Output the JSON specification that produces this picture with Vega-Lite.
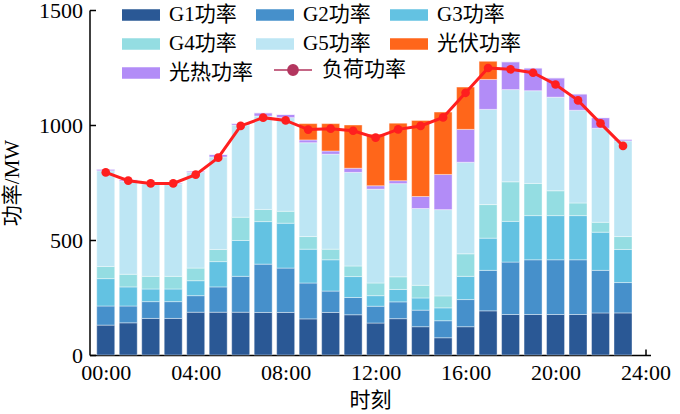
{
  "$schema": "https://vega.github.io/schema/vega-lite/v6.json",
  "autosize": {"type": "none"},
  "width": 561,
  "height": 345,
  "padding": {"left": 89.5, "top": 10, "right": 29.5, "bottom": 59},
  "background": "white",
  "data": {
    "values": [
      {"hour": 0, "G1功率": 130, "G2功率": 83, "G3功率": 119, "G4功率": 53, "G5功率": 416, "光热功率": 7, "光伏功率": 0, "负荷功率": 794},
      {"hour": 1, "G1功率": 140, "G2功率": 73, "G3功率": 83, "G4功率": 55, "G5功率": 404, "光热功率": 7, "光伏功率": 0, "负荷功率": 758},
      {"hour": 2, "G1功率": 159, "G2功率": 73, "G3功率": 55, "G4功率": 55, "G5功率": 401, "光热功率": 5, "光伏功率": 0, "负荷功率": 746},
      {"hour": 3, "G1功率": 159, "G2功率": 73, "G3功率": 55, "G4功率": 55, "G5功率": 401, "光热功率": 5, "光伏功率": 0, "负荷功率": 746},
      {"hour": 4, "G1功率": 186, "G2功率": 72, "G3功率": 65, "G4功率": 55, "G5功率": 416, "光热功率": 6, "光伏功率": 0, "负荷功率": 784},
      {"hour": 5, "G1功率": 186, "G2功率": 110, "G3功率": 110, "G4功率": 53, "G5功率": 402, "光热功率": 11, "光伏功率": 0, "负荷功率": 858},
      {"hour": 6, "G1功率": 186, "G2功率": 156, "G3功率": 156, "G4功率": 101, "G5功率": 401, "光热功率": 7, "光伏功率": 0, "负荷功率": 996},
      {"hour": 7, "G1功率": 185, "G2功率": 210, "G3功率": 185, "G4功率": 53, "G5功率": 406, "光热功率": 14, "光伏功率": 0, "负荷功率": 1032},
      {"hour": 8, "G1功率": 185, "G2功率": 193, "G3功率": 195, "G4功率": 52, "G5功率": 407, "光热功率": 14, "光伏功率": 0, "负荷功率": 1020},
      {"hour": 9, "G1功率": 157, "G2功率": 156, "G3功率": 147, "G4功率": 55, "G5功率": 408, "光热功率": 12, "光伏功率": 71, "负荷功率": 980},
      {"hour": 10, "G1功率": 185, "G2功率": 93, "G3功率": 136, "G4功率": 46, "G5功率": 413, "光热功率": 14, "光伏功率": 119, "负荷功率": 984},
      {"hour": 11, "G1功率": 175, "G2功率": 75, "G3功率": 91, "G4功率": 46, "G5功率": 407, "光热功率": 18, "光伏功率": 188, "负荷功率": 975},
      {"hour": 12, "G1功率": 139, "G2功率": 73, "G3功率": 46, "G4功率": 55, "G5功率": 408, "光热功率": 15, "光伏功率": 224, "负荷功率": 945},
      {"hour": 13, "G1功率": 158, "G2功率": 73, "G3功率": 54, "G4功率": 55, "G5功率": 405, "光热功率": 13, "光伏功率": 250, "负荷功率": 981},
      {"hour": 14, "G1功率": 123, "G2功率": 72, "G3功率": 53, "G4功率": 55, "G5功率": 334, "光热功率": 52, "光伏功率": 331, "负荷功率": 996},
      {"hour": 15, "G1功率": 75, "G2功率": 74, "G3功率": 56, "G4功率": 52, "G5功率": 375, "光热功率": 153, "光伏功率": 271, "负荷功率": 1033},
      {"hour": 16, "G1功率": 123, "G2功率": 118, "G3功率": 101, "G4功率": 98, "G5功率": 398, "光热功率": 143, "光伏功率": 184, "负荷功率": 1140},
      {"hour": 17, "G1功率": 192, "G2功率": 176, "G3功率": 140, "G4功率": 146, "G5功率": 414, "光热功率": 130, "光伏功率": 79, "负荷功率": 1248},
      {"hour": 18, "G1功率": 176, "G2功率": 228, "G3功率": 177, "G4功率": 172, "G5功率": 401, "光热功率": 121, "光伏功率": 0, "负荷功率": 1242},
      {"hour": 19, "G1功率": 176, "G2功率": 238, "G3功率": 192, "G4功率": 140, "G5功率": 403, "光热功率": 99, "光伏功率": 0, "负荷功率": 1227},
      {"hour": 20, "G1功率": 176, "G2功率": 238, "G3功率": 192, "G4功率": 108, "G5功率": 407, "光热功率": 84, "光伏功率": 0, "负荷功率": 1176},
      {"hour": 21, "G1功率": 176, "G2功率": 238, "G3功率": 192, "G4功率": 55, "G5功率": 403, "光热功率": 71, "光伏功率": 0, "负荷功率": 1107},
      {"hour": 22, "G1功率": 183, "G2功率": 185, "G3功率": 166, "G4功率": 43, "G5功率": 409, "光热功率": 46, "光伏功率": 0, "负荷功率": 1007},
      {"hour": 23, "G1功率": 183, "G2功率": 132, "G3功率": 144, "G4功率": 56, "G5功率": 416, "光热功率": 7, "光伏功率": 0, "负荷功率": 909}
    ]
  },
  "encoding": {
    "x": {
      "field": "hour",
      "type": "quantitative",
      "scale": {"domain": [-0.5, 24], "nice": false, "zero": false},
      "axis": {
        "title": "时刻",
        "values": [0, 4, 8, 12, 16, 20, 24],
        "labelExpr": "(datum.value < 10 ? '0' : '') + datum.value + ':00'",
        "labelFlush": false,
        "labelOverlap": false,
        "titlePadding": 6
      }
    }
  },
  "layer": [
    {
      "transform": [
        {"fold": ["G1功率", "G2功率", "G3功率", "G4功率", "G5功率", "光热功率", "光伏功率"], "as": ["type", "value"]},
        {"calculate": "indexof(['G1功率', 'G2功率', 'G3功率', 'G4功率', 'G5功率', '光热功率', '光伏功率'], datum.type)", "as": "ord"}
      ],
      "mark": {"type": "bar", "width": 18, "stroke": "white", "strokeWidth": 0.4},
      "encoding": {
        "y": {
          "field": "value",
          "type": "quantitative",
          "stack": "zero",
          "scale": {"domain": [0, 1500], "nice": false},
          "axis": {
            "title": "功率/MW",
            "values": [0, 500, 1000, 1500],
            "format": "d",
            "titlePadding": 16
          }
        },
        "order": {"field": "ord", "type": "quantitative"},
        "color": {
          "field": "type",
          "type": "nominal",
          "scale": {
            "domain": ["G1功率", "G2功率", "G3功率", "G4功率", "G5功率", "光伏功率", "光热功率"],
            "range": ["#2a5895", "#4690cb", "#63c2e2", "#94dde2", "#bde6f4", "#ff661a", "#b28cf7"]
          },
          "legend": {
            "title": null,
            "orient": "none",
            "direction": "horizontal",
            "legendX": 32.5,
            "legendY": -14,
            "columns": 3,
            "gridAlign": "all",
            "columnPadding": 3,
            "rowPadding": -5,
            "padding": 0,
            "symbolSize": 1444,
            "symbolType": "M-1,-0.3H1V0.3H-1Z",
            "symbolStrokeWidth": 0,
            "labelOffset": 9,
            "labelFontSize": 21,
            "labelLimit": 200
          }
        }
      }
    },
    {
      "mark": {"type": "line", "opacity": 0},
      "encoding": {
        "y": {"field": "负荷功率", "type": "quantitative"},
        "stroke": {
          "datum": "负荷功率",
          "type": "nominal",
          "scale": {"range": ["#b3365f"]},
          "legend": {
            "title": null,
            "orient": "none",
            "legendX": 183.5,
            "legendY": 40,
            "padding": 0,
            "symbolOpacity": 1,
            "symbolSize": 1444,
            "symbolType": "M-1,0H-0.27M0.27,0H1M0.27,0A0.27,0.27 0 1 1 -0.27,0A0.27,0.27 0 1 1 0.27,0Z",
            "symbolFillColor": "#b3365f",
            "symbolStrokeColor": "#b3365f",
            "symbolStrokeWidth": 1.5,
            "labelOffset": 9,
            "labelFontSize": 21,
            "labelLimit": 200
          }
        }
      }
    },
    {
      "mark": {
        "type": "line",
        "color": "#ff1f1f",
        "strokeWidth": 3,
        "point": {"filled": true, "size": 75, "color": "#ff1f1f"}
      },
      "encoding": {
        "y": {"field": "负荷功率", "type": "quantitative"}
      }
    }
  ],
  "config": {
    "font": "Liberation Serif, Noto Sans CJK SC",
    "view": {"stroke": null},
    "axis": {
      "grid": false,
      "domainColor": "black",
      "domainWidth": 1.5,
      "tickColor": "black",
      "tickWidth": 1.5,
      "tickSize": -6,
      "labelPadding": 13,
      "labelFont": "Liberation Serif",
      "labelFontSize": 22,
      "labelColor": "black",
      "titleFont": "Liberation Serif, Noto Sans CJK SC",
      "titleFontSize": 21,
      "titleFontWeight": "normal",
      "titleColor": "black"
    },
    "legend": {
      "labelFont": "Liberation Serif, Noto Sans CJK SC",
      "labelColor": "black"
    }
  }
}
